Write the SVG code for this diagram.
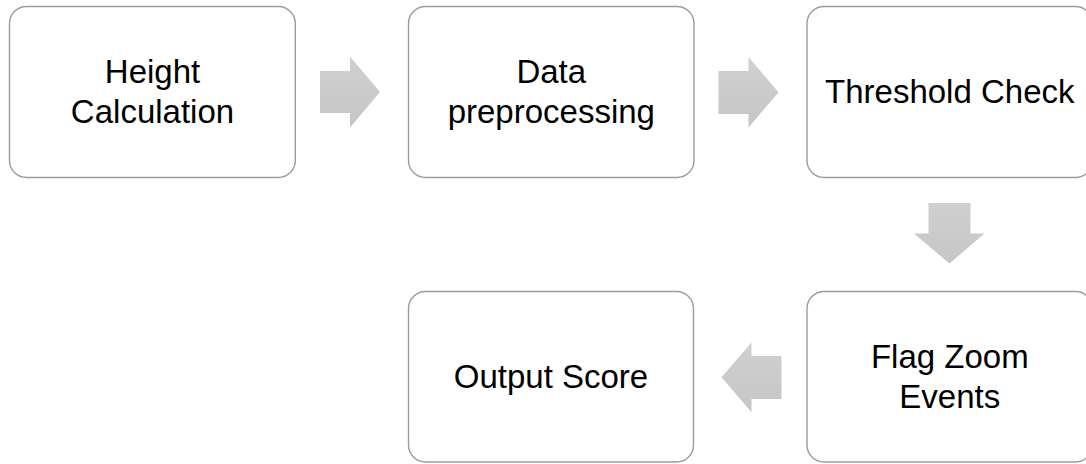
<svg xmlns="http://www.w3.org/2000/svg" width="1086" height="464" viewBox="0 0 1086 464">
  <style>
    .box { fill: #ffffff; stroke: #9c9c9c; stroke-width: 1.4; }
    .label { font-family: "Liberation Sans", Arial, sans-serif; font-size: 33px; fill: #000000; text-anchor: middle; }
    .arrow { fill: url(#arrowFill); }
  </style>
  <defs>
    <linearGradient id="arrowFill" x1="0" y1="0" x2="0" y2="1">
      <stop offset="0" stop-color="#d0d0d0"/>
      <stop offset="1" stop-color="#c6c6c6"/>
    </linearGradient>
  </defs>
  <rect width="1086" height="464" fill="#ffffff"/>

  <!-- flow arrows -->
  <g id="connectors">
    <polygon class="arrow" points="320,71 350,71 350,56.5 380,92 350,127.5 350,113 320,113"/>
    <polygon class="arrow" points="718.5,71 748.5,71 748.5,57 778.5,92.3 748.5,127.5 748.5,114 718.5,114"/>
    <polygon class="arrow" points="928.5,203 970.5,203 970.5,233.5 984.5,233.5 949.5,263.5 914,233.5 928.5,233.5"/>
    <polygon class="arrow" points="781.5,356 751.5,356 751.5,342.5 721.5,377.3 751.5,412.3 751.5,399 781.5,399"/>
  </g>

  <g id="height-calculation">
    <rect class="box" x="9.5" y="6.5" width="285.8" height="171" rx="17" ry="17"/>
    <text class="label" x="152.5" y="82.7">Height</text>
    <text class="label" x="152.5" y="123.3">Calculation</text>
  </g>

  <g id="data-preprocessing">
    <rect class="box" x="408.5" y="6.5" width="285.5" height="171" rx="17" ry="17"/>
    <text class="label" x="551.3" y="82.7">Data</text>
    <text class="label" x="551.3" y="123.3">preprocessing</text>
  </g>

  <g id="threshold-check">
    <rect class="box" x="807" y="6.5" width="285.5" height="171" rx="17" ry="17"/>
    <text class="label" x="949.8" y="102.5">Threshold Check</text>
  </g>

  <g id="flag-zoom-events">
    <rect class="box" x="807" y="291.5" width="285.5" height="170.5" rx="17" ry="17"/>
    <text class="label" x="949.8" y="368.3">Flag Zoom</text>
    <text class="label" x="949.8" y="408.3">Events</text>
  </g>

  <g id="output-score">
    <rect class="box" x="408.5" y="291.5" width="285" height="170.5" rx="17" ry="17"/>
    <text class="label" x="551" y="388.3">Output Score</text>
  </g>
</svg>
